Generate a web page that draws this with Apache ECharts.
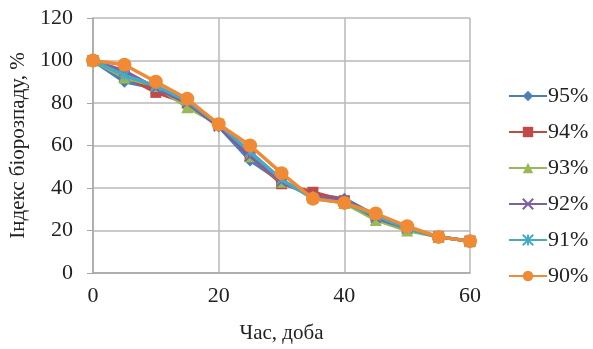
<!DOCTYPE html>
<html>
<head>
<meta charset="utf-8">
<script src="https://cdn.jsdelivr.net/npm/echarts@6/dist/echarts.min.js"></script>
<style>
    html, body { margin: 0; padding: 0; background: #fff; }
</style>
</head>
<body>
<div id="chart" style="width:593px;height:349px;"></div>
<script>
    // час, доба
    var days = [0, 5, 10, 15, 20, 25, 30, 35, 40, 45, 50, 55, 60];
    var s95 = [100, 90, 87, 80, 69, 53, 43, 37, 35, 27, 21, 17, 15];
    var s94 = [100, 93, 85, 80, 70, 55, 42, 38, 34, 27, 21, 17, 15];
    var s93 = [100, 92, 88, 78, 70, 55, 43, 36, 33, 25, 20, 17, 15];
    var s92 = [100, 95, 87, 80, 69, 55, 43, 36, 34, 26, 21, 17, 15];
    var s91 = [100, 93, 88, 81, 70, 57, 44, 35, 33, 27, 21, 17, 15];
    var s90 = [100, 98, 90, 82, 70, 60, 47, 35, 33, 28, 22, 17, 15];
    var names = ['95%', '94%', '93%', '92%', '91%', '90%'];
    var colors = ['#4a7ebb', '#be4b48', '#98b954', '#7d60a0', '#46aac5', '#f08a34'];

    var fontFam = '"Liberation Serif", "DejaVu Serif", serif';

    var symbols = [
        ['diamond', 12],
        ['rect', 11],
        ['triangle', 12],
        ['path://M0,0L10,10M10,0L0,10', 10],
        ['path://M0,0L10,10M10,0L0,10M5,0L5,10', 10],
        ['circle', 14]
    ];

    function pairs(arr) {
        return days.map(function (d, i) { return [d, arr[i]]; });
    }

    var allData = [s95, s94, s93, s92, s91, s90];
    var series = allData.map(function (arr, i) {
        var stroked = i === 3 || i === 4;
        return {
            name: names[i],
            type: 'line',
            data: pairs(arr),
            symbol: symbols[i][0],
            symbolSize: symbols[i][1],
            lineStyle: { color: colors[i], width: 3.5 },
            itemStyle: {
                color: colors[i],
                borderColor: colors[i],
                borderWidth: stroked ? 1.5 : 0
            },
            emphasis: { disabled: true },
            z: 2 + i
        };
    });

    var myChart = echarts.init(document.getElementById('chart'));
    myChart.setOption({
        backgroundColor: '#ffffff',
        animation: false,
        color: colors,
        textStyle: { fontFamily: fontFam },
        grid: { left: 93, right: 123, top: 18, bottom: 74 },
        legend: {
            orient: 'vertical',
            left: 503,
            top: 80,
            itemGap: 14,
            itemWidth: 38,
            itemHeight: 13,
            data: names,
            textStyle: { fontFamily: fontFam, fontSize: 22, color: '#222', padding: [0, 0, 0, -4] }
        },
        xAxis: {
            type: 'value',
            min: 0,
            max: 60,
            interval: 20,
            name: 'Час, доба',
            nameLocation: 'middle',
            nameGap: 50,
            nameTextStyle: { fontFamily: fontFam, fontSize: 21, color: '#222' },
            axisLine: { show: true, lineStyle: { color: '#a6a6a6', width: 1.5 } },
            axisTick: { show: false },
            axisLabel: { fontFamily: fontFam, fontSize: 22, color: '#222', margin: 12 },
            splitLine: { show: true, lineStyle: { color: '#b8b8b8', width: 1.5 } }
        },
        yAxis: {
            type: 'value',
            min: 0,
            max: 120,
            interval: 20,
            name: 'Індекс біорозпаду, %',
            nameLocation: 'middle',
            nameGap: 64,
            nameTextStyle: { fontFamily: fontFam, fontSize: 21, color: '#222' },
            axisLine: { show: true, lineStyle: { color: '#a6a6a6', width: 1.5 } },
            axisTick: { show: true, length: 6, lineStyle: { color: '#a6a6a6' } },
            axisLabel: { fontFamily: fontFam, fontSize: 22, color: '#222', margin: 20 },
            splitLine: { show: true, lineStyle: { color: '#b8b8b8', width: 1.5 } }
        },
        series: series
    });
</script>
</body>
</html>
